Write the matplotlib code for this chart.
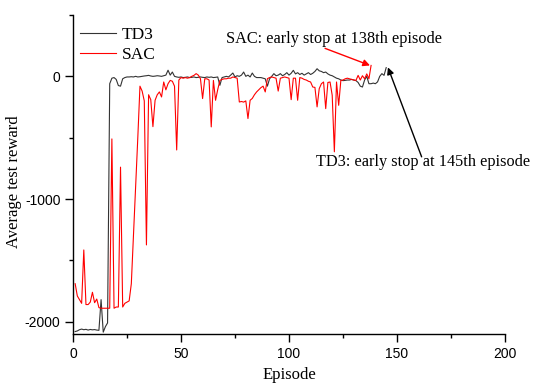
import matplotlib
matplotlib.use("Agg")
import matplotlib.pyplot as plt
from matplotlib.ticker import MultipleLocator

td3_reward = [
    -2080, -2075, -2065, -2060, -2065, -2062, -2068, -2063, -2066, -2064,
    -2068, -2070, -1820, -2085, -2040, -2010, -60, -15, -10, -25,
    -75, -80, -20, -10, -5, -5, -3, -5, 0, -5,
    -3, 0, 3, 5, 8, 3, 0, 2, 5, 3,
    0, 5, 10, 50, 10, 35, 0, -5, -8, -5,
    -10, -8, -5, -10, -8, -5, -10, -8, -5, -8,
    -10, -5, -8, -5, -10, -8, -5, -73, -10, -5,
    0, -5, 10, 27, -5, 5, 0, 10, 35, 0,
    10, -5, 27, 0, -10, -10, -10, -15, -20, -80,
    -20, 0, 22, 5, 10, 22, 5, 15, 30, 10,
    25, 49, 20, 30, 15, 25, 10, 20, 30, 15,
    25, 40, 62, 45, 40, 30, 35, 20, 10, 5,
    -5, -15, -20, -30, -35, -33, -30, -30, -25, -30,
    -35, -50, -80, -87, -30, 0, -60, -60, -55, -60,
    -45, 0, 22, 8, 71,
]

sac_reward = [
    -1690, -1790, -1820, -1850, -1415, -1860, -1860, -1840, -1760, -1845,
    -1815, -1885, -1890, -1890, -1890, -1890, -1890, -510, -1890, -1880,
    -1880, -740, -1880, -1850, -1840, -1830, -1690, -1300, -900, -500,
    -80, -120, -200, -1374, -150, -190, -410, -195, -150, -127,
    -168, -46, -110, -60, -33, -40, -80, -600, -30, -10,
    -15, -10, -15, -10, 0, 8, 22, 10, -19, -181,
    -20, -20, -30, -412, -33, -195, -108, -33, -25, -20,
    -20, -15, -15, -5, -10, -15, -209, -205, -210, -200,
    -344, -195, -180, -150, -127, -110, -92, -80, -127, -19,
    -10, -5, -10, -15, -120, -15, -10, -5, -10, -15,
    -190, -15, -15, -195, -10, -15, -25, -30, -40, -46,
    -87, -90, -249, -100, -60, -46, -263, -50, -46, -154,
    -615, -46, -236, -33, -30, -20, -15, -20, -25, -30,
    -33, 8, -30, 5, -20, 20, -20, 89,
]

td3_episode = list(range(1, len(td3_reward) + 1))
sac_episode = list(range(1, len(sac_reward) + 1))

plt.rcParams["axes.unicode_minus"] = False
serif = ["Liberation Serif", "DejaVu Serif"]
sans = ["Liberation Sans", "DejaVu Sans"]

fig = plt.figure(figsize=(5.33, 3.83), dpi=100)
ax = fig.add_axes([73/533, 1-334/383, (505-73)/533, (334-15)/383])

ax.plot(td3_episode, td3_reward, color="#333333", lw=0.8, label="TD3")
ax.plot(sac_episode, sac_reward, color="#ff0000", lw=0.8, label="SAC")

ax.set_xlim(0, 200)
ax.set_ylim(-2100, 500)
ax.xaxis.set_major_locator(MultipleLocator(50))
ax.xaxis.set_minor_locator(MultipleLocator(25))
ax.yaxis.set_major_locator(MultipleLocator(1000))
ax.yaxis.set_minor_locator(MultipleLocator(500))
ax.tick_params(which="major", direction="out", length=6, width=1, labelsize=10, pad=3)
ax.tick_params(which="minor", direction="out", length=3, width=1)
for lab in ax.get_xticklabels() + ax.get_yticklabels():
    lab.set_family(sans)

ax.spines["top"].set_visible(False)
ax.spines["right"].set_visible(False)
ax.spines["left"].set_linewidth(1)
ax.spines["bottom"].set_linewidth(1)

ax.set_xlabel("Episode", family=serif, fontsize=12)
ax.xaxis.set_label_coords(0.5, -0.105)
ax.set_ylabel("Average test reward", family=serif, fontsize=12)
ax.yaxis.set_label_coords(-0.118, 0.476)

leg = ax.legend(loc="upper left", bbox_to_anchor=(0.0, 0.985), frameon=False,
                prop={"family": serif, "size": 12.5}, handlelength=2.1,
                handletextpad=0.3, labelspacing=0.25, borderaxespad=0.2,
                borderpad=0.2)

ax.annotate("", xy=(137.5, 89), xytext=(116.7, 228),
            arrowprops=dict(arrowstyle="-|>", color="red", lw=1, mutation_scale=10,
                            shrinkA=0, shrinkB=0))
ax.text(120.8, 305, "SAC: early stop at 138th episode", fontsize=11.7, family=serif,
        ha="center", va="center")
ax.annotate("", xy=(145.8, 73), xytext=(161.4, -656),
            arrowprops=dict(arrowstyle="-|>", color="black", lw=1, mutation_scale=10,
                            shrinkA=0, shrinkB=0))
ax.text(162, -700, "TD3: early stop at 145th episode", fontsize=11.7, family=serif,
        ha="center", va="center")

fig.savefig("out.png", dpi=100)
